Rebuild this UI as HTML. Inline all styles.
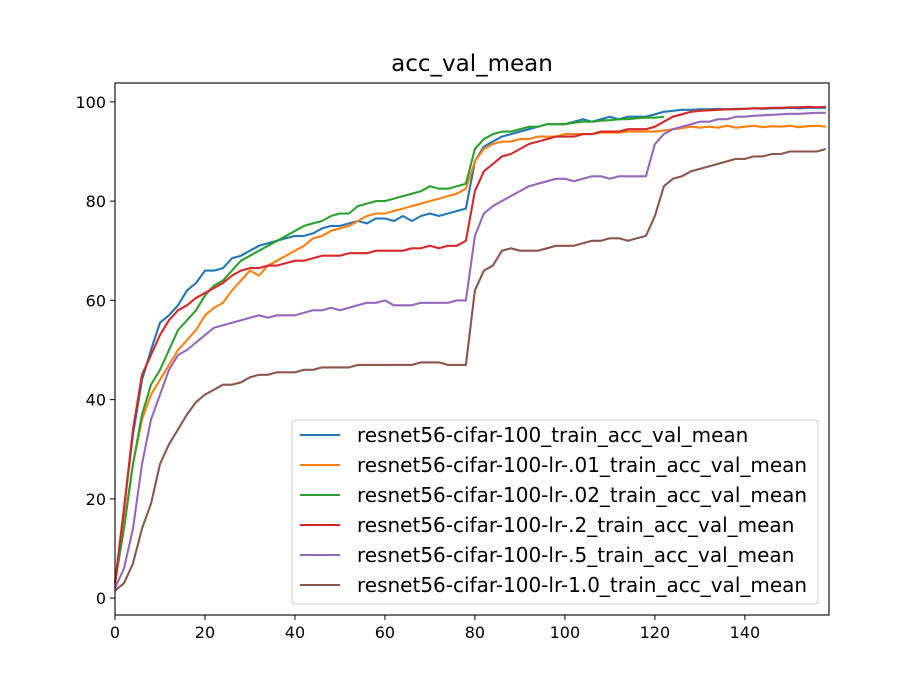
<!DOCTYPE html>
<html><head><meta charset="utf-8"><style>
body{margin:0;background:#fff}
svg text{font-family:"DejaVu Sans","Liberation Sans",sans-serif;fill:#000}
</style></head><body>
<svg id="chart" width="921" height="691" xmlns="http://www.w3.org/2000/svg">
<rect width="921" height="691" fill="#fff"/>
<text x="472" y="71" font-size="23" text-anchor="middle">acc_val_mean</text>
<g id="plot"></g>
</svg>
<script>
const epochs = [];
for (let i = 0; i <= 158; i += 2) epochs.push(i);
const seriesNames = ["resnet56-cifar-100_train_acc_val_mean","resnet56-cifar-100-lr-.01_train_acc_val_mean","resnet56-cifar-100-lr-.02_train_acc_val_mean","resnet56-cifar-100-lr-.2_train_acc_val_mean","resnet56-cifar-100-lr-.5_train_acc_val_mean","resnet56-cifar-100-lr-1.0_train_acc_val_mean"];
const seriesColors = ["#1f77b4","#ff7f0e","#2ca02c","#d62728","#9467bd","#8c564b"];
const blueVals = [3,18,33,44,50,55.5,57,59,62,63.5,66,66,66.5,68.5,69,70,71,71.5,72,72.5,73,73,73.5,74.5,75,75,75.5,76,75.5,76.5,76.5,76,77,76,77,77.5,77,77.5,78,78.5,88,91,92,93,93.5,94,94.5,95,95.5,95.5,95.5,96,96.5,96,96.5,97,96.5,97,97,97,97.5,98,98.2,98.4,98.4,98.5,98.5,98.6,98.5,98.6,98.6,98.7,98.6,98.7,98.7,98.8,98.7,98.8,98.8,98.8];
const orangeVals = [3,15,27,36,41,44,47,50,52,54,57,58.5,59.5,62,64,66,65,67,68,69,70,71,72.5,73,74,74.5,75,76,77,77.5,77.5,78,78.5,79,79.5,80,80.5,81,81.5,82.5,88,90.5,91.5,92,92,92.5,92.5,93,93,93,93.5,93.5,93.5,93.5,93.8,93.8,93.8,94,94,94,94,94.2,94.5,94.7,95,94.8,95,94.8,95.2,94.8,95,95.2,94.9,95.1,95,95.2,94.9,95.1,95.2,95];
const greenVals = [3,14,27,37,43,46,50,54,56,58,61,63,64,66,68,69,70,71,72,73,74,75,75.5,76,77,77.5,77.5,79,79.5,80,80,80.5,81,81.5,82,83,82.5,82.5,83,83.5,90.5,92.5,93.5,94,94,94.5,95,95,95.5,95.5,95.5,95.8,96,96,96.2,96.3,96.5,96.5,96.7,96.8,96.8,97];
const redVals = [3,18,34,45,49,53,56,58,59,60.5,61.5,62.5,63.5,65,66,66.5,66.5,67,67,67.5,68,68,68.5,69,69,69,69.5,69.5,69.5,70,70,70,70,70.5,70.5,71,70.5,71,71,72,82,86,87.5,89,89.5,90.5,91.5,92,92.5,93,93,93,93.5,93.5,94,94,94,94.5,94.5,94.5,95,96,97,97.5,98,98.2,98.3,98.4,98.5,98.5,98.6,98.7,98.7,98.8,98.8,98.9,98.9,99,98.9,99];
const purpleVals = [2,6,14,27,36,41,46,49,50,51.5,53,54.5,55,55.5,56,56.5,57,56.5,57,57,57,57.5,58,58,58.5,58,58.5,59,59.5,59.5,60,59,59,59,59.5,59.5,59.5,59.5,60,60,73,77.5,79,80,81,82,83,83.5,84,84.5,84.5,84,84.5,85,85,84.5,85,85,85,85,91.5,93.5,94.5,95,95.5,96,96,96.5,96.5,97,97,97.2,97.3,97.4,97.5,97.6,97.6,97.7,97.8,97.8];
const brownVals = [1.5,3,7,14,19,27,31,34,37,39.5,41,42,43,43,43.5,44.5,45,45,45.5,45.5,45.5,46,46,46.5,46.5,46.5,46.5,47,47,47,47,47,47,47,47.5,47.5,47.5,47,47,47,62,66,67,70,70.5,70,70,70,70.5,71,71,71,71.5,72,72,72.5,72.5,72,72.5,73,77,83,84.5,85,86,86.5,87,87.5,88,88.5,88.5,89,89,89.5,89.5,90,90,90,90,90.5];
const allSeries = [blueVals,orangeVals,greenVals,redVals,purpleVals,brownVals];
const xTicks = [0,20,40,60,80,100,120,140];
const yTicks = [0,20,40,60,80,100];

const L=115,R=829,T=83,B=615,XMAX=158.7,YMIN=-3.4,YMAX=103.8;
const xs=v=>L+(v/XMAX)*(R-L);
const ys=v=>B-(v-YMIN)/(YMAX-YMIN)*(B-T);
const NS="http://www.w3.org/2000/svg";
const g=document.getElementById('plot');
function mk(t,a){const e=document.createElementNS(NS,t);for(const k in a)e.setAttribute(k,a[k]);g.appendChild(e);return e;}

allSeries.forEach((vals,si)=>{
  const pts=vals.map((v,i)=>xs(epochs[i]).toFixed(1)+','+ys(v).toFixed(1)).join(' ');
  const pl=mk('polyline',{points:pts,fill:'none',stroke:seriesColors[si],'stroke-width':2.1,'stroke-linejoin':'round'});
  
  
});
const frame=mk('rect',{x:L,y:T,width:R-L,height:B-T,fill:'none',stroke:'#000','stroke-width':1.1});


xTicks.forEach(t=>{
  mk('line',{x1:xs(t),x2:xs(t),y1:B,y2:B+5,stroke:'#000'});
  const tx=mk('text',{x:xs(t),y:B+23,'font-size':16,'text-anchor':'middle'});
  tx.textContent=t;
  
  
});
yTicks.forEach(t=>{
  mk('line',{x1:L-5,x2:L,y1:ys(t),y2:ys(t),stroke:'#000'});
  const tx=mk('text',{x:L-9,y:ys(t)+6,'font-size':16,'text-anchor':'end'});
  tx.textContent=t;
  
  
});
const lg=mk('rect',{x:292,y:420,width:526,height:184,rx:3,fill:'#fff','fill-opacity':0.8,stroke:'#ccc'});


seriesNames.forEach((n,i)=>{
  const y=435+i*30;
  mk('line',{x1:300,x2:340,y1:y,y2:y,stroke:seriesColors[i],'stroke-width':2.1});
  const tx=mk('text',{x:357,y:y+7,'font-size':20});
  tx.textContent=n;
  
  
});
</script>
</body></html>
